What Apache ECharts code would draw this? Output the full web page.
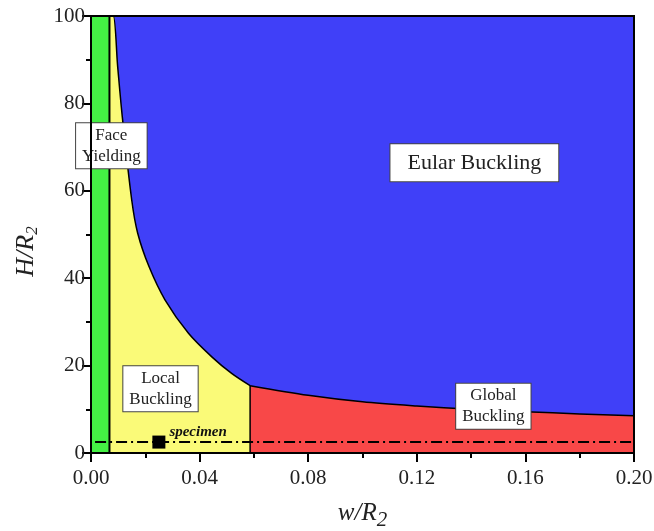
<!DOCTYPE html>
<html><head><meta charset="utf-8">
<script src="https://cdn.jsdelivr.net/npm/echarts@6/dist/echarts.min.js"></script>
<style>html,body{margin:0;padding:0;background:#fff}#c{width:654px;height:531px}</style>
</head><body><div id="c"></div>
<script>
// Region boundaries
const faceYieldX = 0.0068;           // green / yellow boundary
const localGlobalX = 0.0586;         // yellow / red boundary
const localCurveX = [0.0082, 0.0098, 0.0115, 0.0150, 0.0172, 0.0214, 0.0273, 0.0359, 0.0445, 0.0518, 0.0586];
const localCurveY = [100, 88.6, 77.1, 57.9, 50.3, 42.6, 35.0, 27.4, 22.0, 18.2, 15.4];
const globalCurveX = [0.0586, 0.08, 0.10, 0.12, 0.14, 0.16, 0.18, 0.20];
const globalCurveY = [15.4, 13.2, 11.7, 10.75, 10.0, 9.45, 8.95, 8.5];
const specimenLevel = 2.5;
const specimenX = [0.025];
const specimenY = [2.5];
const specimenLineStart = 0.0015;
const xMin = 0, xMax = 0.20, xInterval = 0.04;
const yMin = 0, yMax = 100, yInterval = 20;
const regionLabels = ['Face\nYielding', 'Eular Buckling', 'Local\nBuckling', 'Global\nBuckling'];
const regionLabelX = [0.0075, 0.1412, 0.0256, 0.1482];
const regionLabelY = [70.3, 66.4, 14.7, 10.7];

const serif = '"Liberation Serif","Times New Roman",serif';
const localPts = localCurveX.map((x, i) => [x, localCurveY[i]]);
const globalPts = globalCurveX.map((x, i) => [x, globalCurveY[i]]);

const chart = echarts.init(document.getElementById('c'), null, {renderer: 'canvas'});
const areaBase = {type: 'line', symbol: 'none', silent: true, animation: false};
const labelSizes = [17, 22, 17, 17];
chart.setOption({
  backgroundColor: '#fff',
  animation: false,
  grid: {left: 91, right: 20, top: 16, bottom: 78, outerBoundsMode: 'none', containLabel: false, show: true, borderColor: '#000', borderWidth: 2, backgroundColor: 'transparent', z: 10},
  xAxis: {
    type: 'value', min: xMin, max: xMax, interval: xInterval,
    name: '{i|w/R}{s|2}', nameLocation: 'middle', nameGap: 43,
    nameTextStyle: {rich: {i: {fontFamily: serif, fontStyle: 'italic', fontSize: 25, color: '#222'}, s: {fontFamily: serif, fontStyle: 'italic', fontSize: 21, color: '#222', verticalAlign: 'bottom', padding: [14, 0, 0, 0]}}},
    axisLine: {lineStyle: {color: '#000', width: 2}, onZero: false},
    axisTick: {inside: false, length: 9, lineStyle: {color: '#000', width: 2}},
    minorTick: {show: true, splitNumber: 2, length: 5, lineStyle: {color: '#000', width: 2}},
    splitLine: {show: false},
    axisLabel: {fontFamily: serif, fontSize: 21, color: '#222', margin: 15, formatter: v => v.toFixed(2)}
  },
  yAxis: {
    type: 'value', min: yMin, max: yMax, interval: yInterval,
    name: '{i|H/R}{s|2}', nameLocation: 'middle', nameGap: 50, nameRotate: 90,
    nameTextStyle: {padding: [0, 34, 0, 0], rich: {i: {fontFamily: serif, fontStyle: 'italic', fontSize: 26, color: '#222'}, s: {fontFamily: serif, fontStyle: 'italic', fontSize: 17, color: '#222', padding: [12, 0, 0, 0]}}},
    axisLine: {lineStyle: {color: '#000', width: 2}, onZero: false},
    axisTick: {inside: false, length: 9, lineStyle: {color: '#000', width: 2}},
    minorTick: {show: true, splitNumber: 2, length: 5, lineStyle: {color: '#000', width: 2}},
    splitLine: {show: false},
    axisLabel: {fontFamily: serif, fontSize: 21, color: '#222', margin: 6}
  },
  series: [
    Object.assign({}, areaBase, {name: 'euler', z: 1, data: [[faceYieldX, yMax], [xMax, yMax]], lineStyle: {width: 0}, areaStyle: {color: '#4040f8', opacity: 1}}),
    Object.assign({}, areaBase, {name: 'local', z: 2, smooth: 0.3, data: [[faceYieldX, yMax]].concat(localPts), lineStyle: {color: '#000', width: 1.5}, areaStyle: {color: '#fafa78', opacity: 1}}),
    Object.assign({}, areaBase, {name: 'global', z: 2, smooth: 0.3, data: globalPts, lineStyle: {color: '#000', width: 1.5}, areaStyle: {color: '#f84848', opacity: 1}}),
    Object.assign({}, areaBase, {name: 'face', z: 2, data: [[xMin, yMax], [faceYieldX, yMax]], lineStyle: {width: 0}, areaStyle: {color: '#44f044', opacity: 1}}),
    Object.assign({}, areaBase, {name: 'faceLine', z: 3, data: [[faceYieldX, yMin], [faceYieldX, yMax]], lineStyle: {color: '#000', width: 2}}),
    Object.assign({}, areaBase, {name: 'lgLine', z: 3, data: [[localGlobalX, yMin], [localGlobalX, globalCurveY[0]]], lineStyle: {color: '#000', width: 1.5}}),
    Object.assign({}, areaBase, {name: 'specLine', z: 4, data: [[specimenLineStart, specimenLevel], [xMax, specimenLevel]], lineStyle: {color: '#000', width: 2, type: [11, 4, 2, 4]}}),
    {type: 'scatter', z: 5, symbol: 'rect', symbolSize: 13, itemStyle: {color: '#000', opacity: 1}, data: specimenX.map((x, i) => [x, specimenY[i]]),
      label: {show: true, position: [17, -11], formatter: 'specimen', fontFamily: serif, fontStyle: 'italic', fontWeight: 'bold', fontSize: 15, color: '#111', align: 'left'}},
    {type: 'scatter', z: 6, symbolSize: 0, silent: true, itemStyle: {opacity: 1},
      data: regionLabels.map((t, i) => ({value: [regionLabelX[i], regionLabelY[i]], label: {formatter: t, fontSize: labelSizes[i], lineHeight: i === 1 ? 26 : 21, padding: i === 1 ? [6, 17, 5, 17] : [2, 6, 1, 6]}})),
      label: {show: true, position: 'inside', fontFamily: serif, color: '#222', backgroundColor: '#fff', borderColor: '#444', borderWidth: 1, align: 'center', verticalAlign: 'middle'}}
  ]
});
</script></body></html>
